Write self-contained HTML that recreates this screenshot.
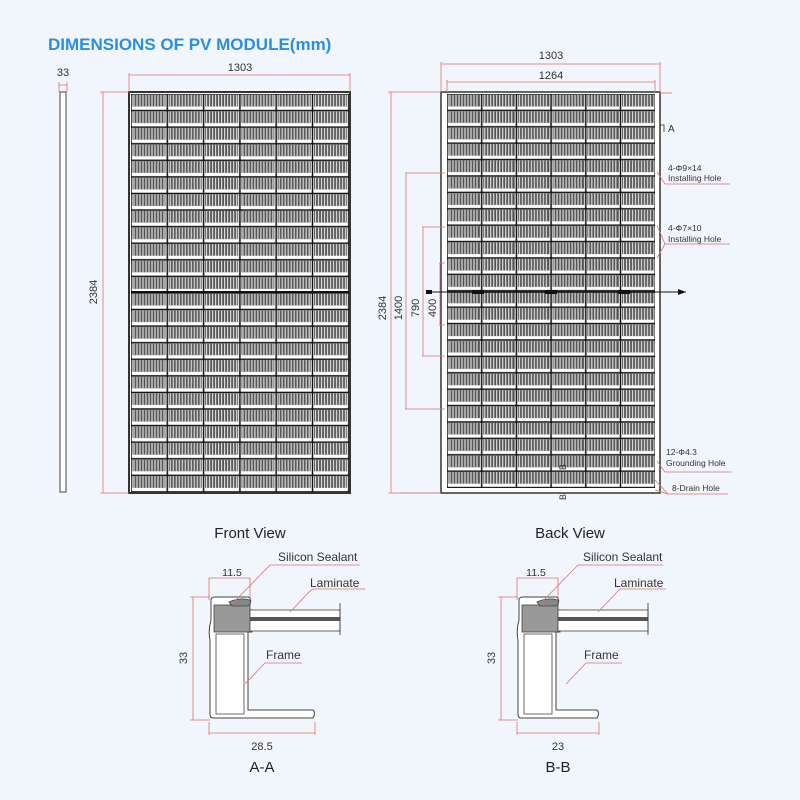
<!DOCTYPE html>
<html><head><meta charset="utf-8"><style>
html,body{margin:0;padding:0;background:#f1f5fc;}
svg{display:block;font-family:"Liberation Sans",sans-serif;}
</style></head><body>
<svg width="800" height="800" viewBox="0 0 800 800" xmlns="http://www.w3.org/2000/svg">
<defs>
<pattern id="cf" patternUnits="userSpaceOnUse" x="131" y="94" width="36.3" height="16.58">
<rect width="36.3" height="16.58" fill="#fff"/>
<rect x="1.5" y="1" width="33" height="11.5" fill="#555"/>
<g stroke="#ddd" stroke-width="1.2">
<path d="M3,1V12.5M6,1V12.5M9,1V12.5M12,1V12.5M15,1V12.5M18,1V12.5M21,1V12.5M24,1V12.5M27,1V12.5M30,1V12.5M33,1V12.5"/>
</g>
<rect x="0" y="0" width="36.3" height="16.58" fill="none" stroke="#111" stroke-width="1.5"/>
</pattern>
<pattern id="cb" patternUnits="userSpaceOnUse" x="447" y="94" width="34.7" height="16.4">
<rect width="34.7" height="16.4" fill="#fff"/>
<rect x="1.5" y="1" width="31.5" height="11.5" fill="#555"/>
<g stroke="#ddd" stroke-width="1.2">
<path d="M3,1V12.5M6,1V12.5M9,1V12.5M12,1V12.5M15,1V12.5M18,1V12.5M21,1V12.5M24,1V12.5M27,1V12.5M30,1V12.5"/>
</g>
<rect x="0" y="0" width="34.7" height="16.4" fill="none" stroke="#111" stroke-width="1.5"/>
</pattern>
</defs>
<text x="48" y="50" font-size="17" font-weight="bold" fill="#2a8fe0">DIMENSIONS OF PV MODULE(mm)</text>

<rect x="60" y="92" width="6" height="400" fill="#fff" stroke="#444" stroke-width="1"/>
<text x="63" y="76" font-size="11" text-anchor="middle" fill="#333">33</text>
<path d="M59,82V92M67,82V92M59,85H67" stroke="#e07070" stroke-width="0.8" fill="none"/>

<rect x="129" y="92" width="221" height="401" fill="#fff" stroke="#333" stroke-width="2"/>
<rect x="131" y="94" width="218" height="398" fill="url(#cf)"/>
<line x1="131" y1="292" x2="349" y2="292" stroke="#111" stroke-width="2"/>
<path d="M129,73V92M350,73V92M129,75H350" stroke="#e07070" stroke-width="0.8" fill="none"/>
<text x="240" y="71" font-size="11" text-anchor="middle" fill="#333">1303</text>
<path d="M100,92H129M100,493H129M103,92V493" stroke="#e07070" stroke-width="0.8" fill="none"/>
<text transform="translate(97,292) rotate(-90)" font-size="11" text-anchor="middle" fill="#333">2384</text>
<text x="250" y="538" font-size="15" text-anchor="middle" fill="#222">Front View</text>

<rect x="441" y="92" width="219" height="401" fill="#fff" stroke="#333" stroke-width="1.5"/>
<rect x="447" y="94" width="208" height="394" fill="url(#cb)"/>
<line x1="447" y1="292" x2="655" y2="292" stroke="#111" stroke-width="1.5"/>
<path d="M441,62V92M660,62V92M441,64H660" stroke="#e07070" stroke-width="0.8" fill="none"/>
<text x="551" y="59" font-size="11" text-anchor="middle" fill="#333">1303</text>
<path d="M447,80V92M655,80V92M447,82H655" stroke="#e07070" stroke-width="0.8" fill="none"/>
<text x="551" y="79" font-size="11" text-anchor="middle" fill="#333">1264</text>
<path d="M388,92H441M388,493H441M391,92V493" stroke="#e07070" stroke-width="0.8" fill="none"/>
<path d="M405,173H445M405,409H445M406,173V409" stroke="#e07070" stroke-width="0.8" fill="none"/>
<path d="M422,227H445M422,356H445M423,227V356" stroke="#e07070" stroke-width="0.8" fill="none"/>
<path d="M439,263H445M439,325H445M440,263V325" stroke="#e07070" stroke-width="0.8" fill="none"/>
<text transform="translate(386,308) rotate(-90)" font-size="11" text-anchor="middle" fill="#333">2384</text>
<text transform="translate(402,308) rotate(-90)" font-size="11" text-anchor="middle" fill="#333">1400</text>
<text transform="translate(419,308) rotate(-90)" font-size="11" text-anchor="middle" fill="#333">790</text>
<text transform="translate(436,308) rotate(-90)" font-size="11" text-anchor="middle" fill="#333">400</text>
<line x1="428" y1="292" x2="686" y2="292" stroke="#111" stroke-width="1"/>
<path d="M686,292l-8,-3v6z" fill="#111"/>
<rect x="426" y="290" width="6" height="4" fill="#111"/>
<rect x="472" y="290" width="12" height="4" fill="#111"/>
<rect x="545" y="290" width="12" height="4" fill="#111"/>
<rect x="618" y="290" width="12" height="4" fill="#111"/>
<path d="M659,93L672,93" stroke="#e07070" stroke-width="0.8"/>
<path d="M660,125H664V132" stroke="#333" stroke-width="0.8" fill="none"/>
<text x="668" y="132" font-size="10" fill="#333">A</text>
<path d="M657,172L665,184H730M657,225L665,244H730M657,258L665,244" stroke="#e07070" stroke-width="0.8" fill="none"/>
<text x="668" y="171" font-size="8.5" fill="#333">4-Φ9×14</text>
<text x="668" y="181" font-size="8.5" fill="#333">Installing Hole</text>
<text x="668" y="231" font-size="8.5" fill="#333">4-Φ7×10</text>
<text x="668" y="242" font-size="8.5" fill="#333">Installing Hole</text>
<path d="M657,461L665,472H732" stroke="#e07070" stroke-width="0.8" fill="none"/>
<text x="666" y="455" font-size="8.5" fill="#333">12-Φ4.3</text>
<text x="666" y="466" font-size="8.5" fill="#333">Grounding Hole</text>
<path d="M655,480L668,494H728M655,490L668,494" stroke="#e07070" stroke-width="0.8" fill="none"/>
<text x="672" y="491" font-size="8.5" fill="#333">8-Drain Hole</text>
<text transform="translate(566,500) rotate(-90)" font-size="9" fill="#333">B</text>
<text transform="translate(566,470) rotate(-90)" font-size="9" fill="#333">B</text>
<path d="M400,493H441" stroke="#e07070" stroke-width="0.8"/>
<text x="570" y="538" font-size="15" text-anchor="middle" fill="#222">Back View</text>

<g>
<path d="M211,600Q211,597 215,597H248Q252,598 250,604L246,610H252V632H248V710H313Q316,713 313,718H213Q210,718 210,714V640Q208,630 211,620Z" fill="#fff" stroke="#444" stroke-width="1"/>
<rect x="214" y="605" width="36" height="27" fill="#999" stroke="#444" stroke-width="0.8"/>
<path d="M229,602Q240,597 250,600Q252,604 247,606H232Z" fill="#888" stroke="#444" stroke-width="0.8"/>
<rect x="216" y="634" width="28" height="80" fill="none" stroke="#444" stroke-width="0.8"/>
<rect x="250" y="610" width="90" height="21" fill="#fff" stroke="#444" stroke-width="0.8"/>
<rect x="250" y="617" width="90" height="4" fill="#555"/>
<line x1="340" y1="603" x2="340" y2="635" stroke="#333" stroke-width="0.8"/>
</g>
<path d="M209,578H250M209,578V600M250,578V600" stroke="#e07070" stroke-width="0.8" fill="none"/>
<text x="232" y="576" font-size="10.5" text-anchor="middle" fill="#333">11.5</text>
<path d="M232,604L270,565H360" stroke="#e07070" stroke-width="0.8" fill="none"/>
<text x="278" y="561" font-size="12" fill="#333">Silicon Sealant</text>
<path d="M290,612L312,589H365" stroke="#e07070" stroke-width="0.8" fill="none"/>
<text x="310" y="587" font-size="12" fill="#333">Laminate</text>
<path d="M245,684L265,663H302" stroke="#e07070" stroke-width="0.8" fill="none"/>
<text x="266" y="659" font-size="12" fill="#333">Frame</text>
<path d="M193,597V720M190,597H210M190,720H210" stroke="#e07070" stroke-width="0.8" fill="none"/>
<text transform="translate(187,658) rotate(-90)" font-size="11" text-anchor="middle" fill="#333">33</text>
<path d="M209,733H315M209,722V735M315,722V735" stroke="#e07070" stroke-width="0.8" fill="none"/>
<text x="262" y="750" font-size="11" text-anchor="middle" fill="#333">28.5</text>
<text x="262" y="772" font-size="15" text-anchor="middle" fill="#222">A-A</text>

<g transform="translate(308,0)">
<path d="M211,600Q211,597 215,597H248Q252,598 250,604L246,610H252V632H248V710H289Q292,713 289,718H213Q210,718 210,714V640Q208,630 211,620Z" fill="#fff" stroke="#444" stroke-width="1"/>
<rect x="214" y="605" width="36" height="27" fill="#999" stroke="#444" stroke-width="0.8"/>
<path d="M229,602Q240,597 250,600Q252,604 247,606H232Z" fill="#888" stroke="#444" stroke-width="0.8"/>
<rect x="216" y="634" width="28" height="80" fill="none" stroke="#444" stroke-width="0.8"/>
<rect x="250" y="610" width="90" height="21" fill="#fff" stroke="#444" stroke-width="0.8"/>
<rect x="250" y="617" width="90" height="4" fill="#555"/>
<line x1="340" y1="603" x2="340" y2="635" stroke="#333" stroke-width="0.8"/>
<path d="M209,578H250M209,578V600M250,578V600" stroke="#e07070" stroke-width="0.8" fill="none"/>
<text x="228" y="576" font-size="10.5" text-anchor="middle" fill="#333">11.5</text>
<path d="M232,604L270,565H355" stroke="#e07070" stroke-width="0.8" fill="none"/>
<text x="275" y="561" font-size="12" fill="#333">Silicon Sealant</text>
<path d="M290,612L312,589H358" stroke="#e07070" stroke-width="0.8" fill="none"/>
<text x="306" y="587" font-size="12" fill="#333">Laminate</text>
<path d="M258,684L278,663H314" stroke="#e07070" stroke-width="0.8" fill="none"/>
<text x="276" y="659" font-size="12" fill="#333">Frame</text>
<path d="M193,597V720M190,597H210M190,720H210" stroke="#e07070" stroke-width="0.8" fill="none"/>
<text transform="translate(187,658) rotate(-90)" font-size="11" text-anchor="middle" fill="#333">33</text>
<path d="M209,733H291M209,722V735M291,722V735" stroke="#e07070" stroke-width="0.8" fill="none"/>
<text x="250" y="750" font-size="11" text-anchor="middle" fill="#333">23</text>
<text x="250" y="772" font-size="15" text-anchor="middle" fill="#222">B-B</text>
</g>
</svg>
</body></html>
